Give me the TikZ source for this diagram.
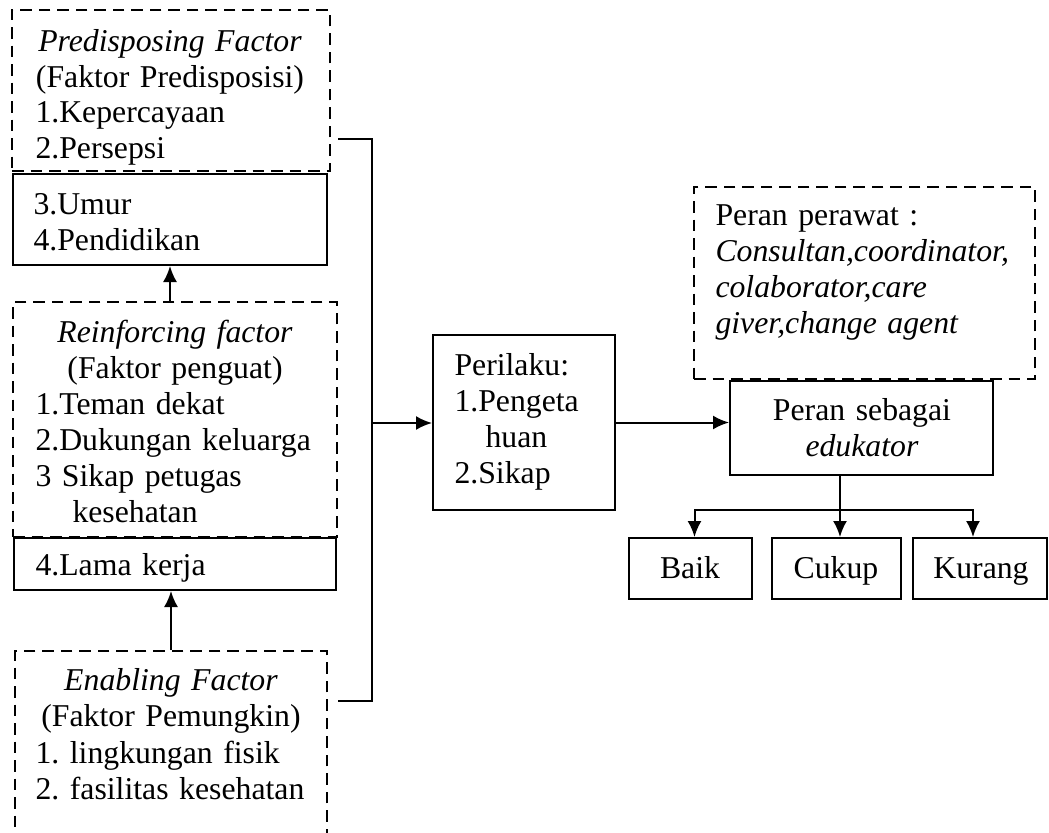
\documentclass[tikz,border=0pt]{standalone}
\usepackage{fontspec}
\setmainfont{Liberation Serif}
\usetikzlibrary{positioning, fit, arrows.meta}
\frenchspacing

\tikzset{
  box/.style={draw, line width=0.8pt, inner sep=0pt},
  dbox/.style={box, dash pattern=on 4.6pt off 2.8pt},
  txt/.style={inner sep=0pt, text width=#1, align=left, anchor=base west},
  txt/.default=130pt,
  ttl/.style={inner sep=0pt, text width=140pt, align=center, anchor=base},
  ln/.style={line width=0.8pt},
}

\begin{document}
\begin{tikzpicture}[x=0.4pt, y=-0.4pt, >={Latex[length=6.4pt,width=5.6pt]},
  font=\fontsize{12.7}{14.4}\selectfont]
  \clip (0,0) rectangle (1049,833);

  % left column
  \node[dbox, fit={(12,10) (330,171)}] (pred) {};
  \node[box, fit={(13,174) (327,265)}] (umur) {};
  \node[dbox, fit={(13,302) (337,537)}] (reinf) {};
  \node[box, fit={(14,538) (336,590)}] (lama) {};
  \node[dbox, fit={(15,651) (327,880)}] (enab) {};

  \node[ttl] (predt) at (170,51) {\textit{Predisposing Factor}\\(Faktor Predisposisi)};
  \node[txt] (predi) at (35,122) {1.Kepercayaan\\2.Persepsi};
  \node[txt] (umuri) at (33,215) {3.Umur\\4.Pendidikan};
  \node[ttl] (reinft) at (175,342) {\textit{Reinforcing factor}\\(Faktor penguat)};
  \node[txt] (reinfi) at (35,414) {1.Teman dekat\\2.Dukungan keluarga\\3 Sikap petugas\\\hspace*{14.8pt}kesehatan};
  \node[txt] (lamai) at (35,575) {4.Lama kerja};
  \node[ttl] (enabt) at (171,690) {\textit{Enabling Factor}\\(Faktor Pemungkin)};
  \node[txt] (enabi) at (35,763) {1. lingkungan fisik\\2. fasilitas kesehatan};

  % middle and right
  \node[box, fit={(433,335) (615,510)}] (peril) {};
  \node[txt] (perilt) at (454,375) {Perilaku:\\1.Pengeta\\\hspace*{12.4pt}huan\\2.Sikap};

  \node[dbox, fit={(694,187) (1035,379)}] (perawat) {};
  \node[txt=140pt] (perawatt) at (715,225) {Peran perawat :\\\textit{Consultan,coordinator,}\\\textit{colaborator,care}\\\textit{giver,change agent}};

  \node[box, fit={(730,381) (993,475)}] (sebagai) {};
  \node[ttl] (sebagait) at (862,420) {Peran sebagai\\\textit{edukator}};

  \node[box, fit={(629,538) (752,599)}] (baik) {};
  \node[box, fit={(772,538) (901,599)}] (cukup) {};
  \node[box, fit={(913,538) (1047,599)}] (kurang) {};
  \node[anchor=base, inner sep=0pt] (baikt) at (690,578) {Baik};
  \node[anchor=base, inner sep=0pt] (cukupt) at (836,578) {Cukup};
  \node[anchor=base, inner sep=0pt] (kurangt) at (981,578) {Kurang};

  % connectors
  \draw[ln, ->] (reinf.north -| umur.south) -- (umur.south);
  \draw[ln, ->] (enab.north) -- (enab.north |- lama.south);

  \coordinate (bus) at (372,423);
  \draw[ln] ([shift={(7,130)}]pred.north east) -| (bus);
  \draw[ln] ([shift={(10,51)}]enab.north east) -| (bus);
  \draw[ln, ->] (bus) -- (bus -| peril.west);
  \draw[ln, ->] (peril.east) -- (peril.east -| sebagai.west);

  \coordinate (split) at (840,510);
  \draw[ln] (sebagai.south -| split) -- (split);
  \draw[ln, ->] (split) -- (split |- cukup.north);
  \draw[ln, ->] (split) -| ([xshift=1.6pt]baik.north);
  \draw[ln, ->] (split) -| ([xshift=-2.8pt]kurang.north);
\end{tikzpicture}
\end{document}
